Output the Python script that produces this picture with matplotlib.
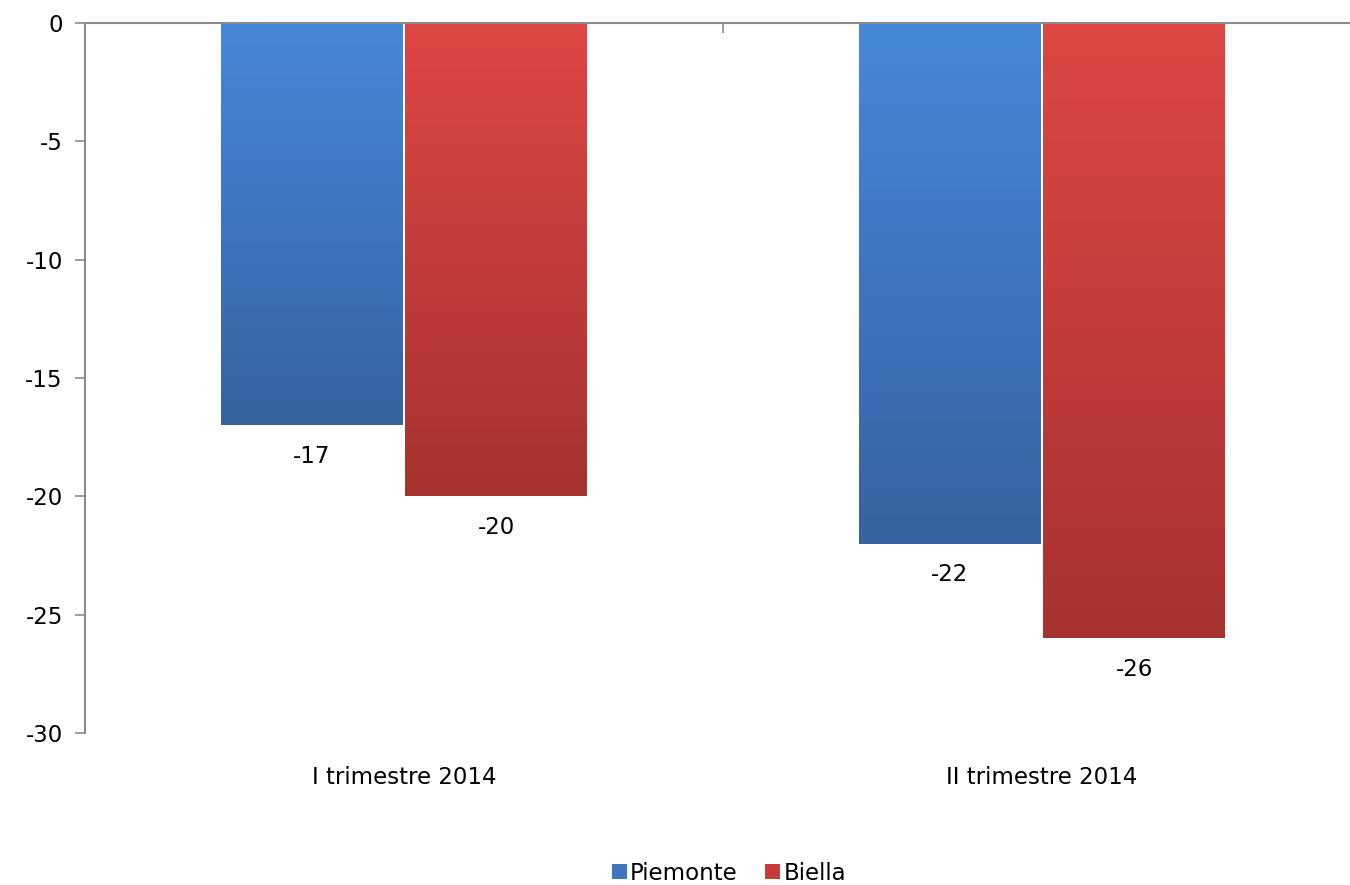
import numpy as np
import matplotlib.pyplot as plt
from matplotlib.colors import LinearSegmentedColormap
from matplotlib.patches import Patch

plt.rcParams['axes.unicode_minus'] = False
plt.rcParams['font.family'] = ['DejaVu Sans']

# %%
categories = ['I trimestre 2014', 'II trimestre 2014']
series = ['Piemonte', 'Biella']
piemonte = [-17, -22]
biella = [-20, -26]

# %%
fig = plt.figure(figsize=(13.5, 8.85), dpi=100)
ax = fig.add_axes([85/1350, 1-733/885, 1276/1350, 710/885])

x = np.arange(len(categories))
w = 0.285
grad = {
    'Piemonte': ('#4688da', '#3762a0'),
    'Biella': ('#de4744', '#a63230'),
}

def gradient_bars(bars, c_top, c_bot):
    cmap = LinearSegmentedColormap.from_list('g', [c_top, c_bot])
    for b in bars:
        x0, y0 = b.get_x(), b.get_y()
        bw, bh = b.get_width(), b.get_height()
        img = np.linspace(0, 1, 256).reshape(-1, 1)
        im = ax.imshow(img, cmap=cmap, aspect='auto', zorder=2,
                       extent=[x0, x0+bw, y0+bh, y0], origin='upper')
        im.set_clip_path(b)
        b.set_facecolor('none')

b1 = ax.bar(x - w/2 - 0.002, piemonte, w, color=grad['Piemonte'][0], zorder=2, linewidth=0)
b2 = ax.bar(x + w/2 + 0.002, biella, w, color=grad['Biella'][0], zorder=2, linewidth=0)
gradient_bars(b1, *grad['Piemonte'])
gradient_bars(b2, *grad['Biella'])

for bars, vals in [(b1, piemonte), (b2, biella)]:
    for b, v in zip(bars, vals):
        ax.annotate(f'{v}', (b.get_x() + b.get_width()/2, v), xytext=(0, -31),
                    textcoords='offset pixels',
                    ha='center', va='center', fontsize=16.5, color='black')

ax.set_xlim(-0.5, 1.5)
ax.set_ylim(-30, 0)
ax.set_yticks(np.arange(-30, 1, 5))

for s in ['right', 'bottom']:
    ax.spines[s].set_visible(False)
for s in ['left', 'top']:
    ax.spines[s].set_color('#8c8c8c')
    ax.spines[s].set_linewidth(1.5)

ax.tick_params(axis='y', length=7, width=1.2, color='#8c8c8c', labelsize=16.5, pad=9)
ax.set_xticks(x)
ax.set_xticklabels(categories)
ax.tick_params(axis='x', which='major', length=0, labelsize=16.5, pad=24)
ax.set_xticks([0.5], minor=True)
ax.tick_params(axis='x', which='minor', top=True, bottom=False, direction='in',
               length=7, width=1.2, color='#8c8c8c')

handles = [Patch(facecolor='#3f75c0', label='Piemonte'),
           Patch(facecolor='#c63c39', label='Biella')]
fig.legend(handles=handles, loc='center', bbox_to_anchor=(0.54, 1-873/885),
           ncol=2, frameon=False, fontsize=16.5, handlelength=0.65, handleheight=0.65,
           handletextpad=0.15, columnspacing=1.2)

fig.savefig('out.png', dpi=100)
